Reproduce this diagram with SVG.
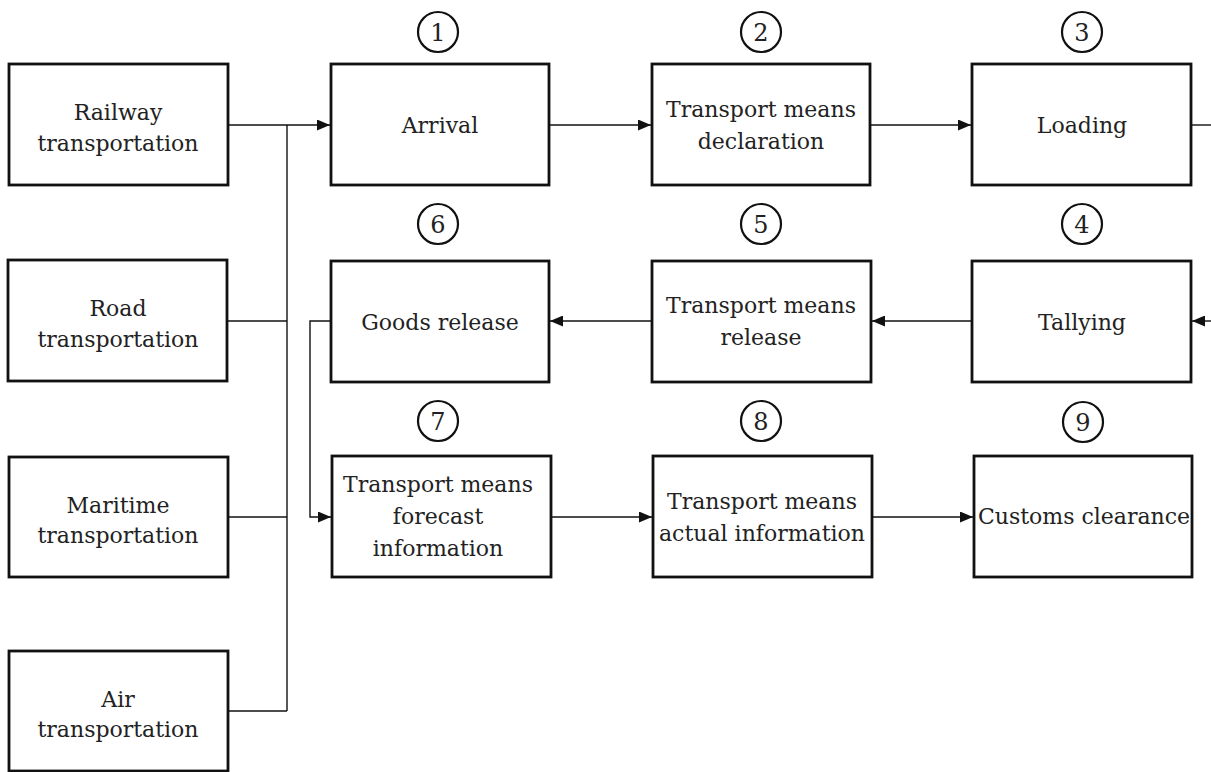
<svg xmlns="http://www.w3.org/2000/svg" width="1211" height="772" viewBox="0 0 1211 772">
<defs>
<style>
.box{fill:#fff;stroke:#111;stroke-width:2.8}
.num{fill:none;stroke:#111;stroke-width:2.2}
text{font-family:"DejaVu Serif","Liberation Serif",serif;font-size:22px;fill:#222;text-anchor:middle}
.d{font-size:24px}
.c{fill:none;stroke:#111;stroke-width:1.4}
</style>
<marker id="ah" viewBox="0 0 13 11" refX="13" refY="5.5" markerWidth="13" markerHeight="11" markerUnits="userSpaceOnUse" orient="auto">
<path d="M0,0 L13,5.5 L0,11 Z" fill="#111"/>
</marker>
</defs>
<rect width="1211" height="772" fill="#fff"/>
<g id="connectors">
<path class="c" d="M228,125 H330" marker-end="url(#ah)"/>
<path class="c" d="M287,125 V711"/>
<path class="c" d="M227,321 H287"/>
<path class="c" d="M228,517 H287"/>
<path class="c" d="M228,711 H287"/>
<path class="c" d="M549,125 H651" marker-end="url(#ah)"/>
<path class="c" d="M870,125 H971" marker-end="url(#ah)"/>
<path class="c" d="M1191,125 H1212"/>
<path class="c" d="M1212,321 H1192" marker-end="url(#ah)"/>
<path class="c" d="M972,321 H872" marker-end="url(#ah)"/>
<path class="c" d="M652,321 H550" marker-end="url(#ah)"/>
<path class="c" d="M331,321 H310 V517 H331" marker-end="url(#ah)"/>
<path class="c" d="M551,517 H652" marker-end="url(#ah)"/>
<path class="c" d="M872,517 H973" marker-end="url(#ah)"/>
</g>
<g id="railway"><rect class="box" x="9" y="64" width="219" height="121"/><text x="118" y="120">Railway</text><text x="118" y="151">transportation</text></g>
<g id="road"><rect class="box" x="8" y="260" width="219" height="121"/><text x="118" y="316">Road</text><text x="118" y="347">transportation</text></g>
<g id="maritime"><rect class="box" x="9" y="457" width="219" height="120"/><text x="118" y="513">Maritime</text><text x="118" y="543">transportation</text></g>
<g id="air"><rect class="box" x="9" y="651" width="219" height="120"/><text x="118" y="707">Air</text><text x="118" y="737">transportation</text></g>

<g id="n1"><circle class="num" cx="438" cy="32" r="20"/><text class="d" x="438" y="41">1</text><rect class="box" x="331" y="64" width="218" height="121"/><text x="440" y="133">Arrival</text></g>
<g id="n2"><circle class="num" cx="761" cy="32" r="20"/><text class="d" x="761" y="41">2</text><rect class="box" x="652" y="64" width="218" height="121"/><text x="761" y="117">Transport means</text><text x="761" y="149">declaration</text></g>
<g id="n3"><circle class="num" cx="1082" cy="32" r="20"/><text class="d" x="1082" y="41">3</text><rect class="box" x="972" y="64" width="219" height="121"/><text x="1082" y="133">Loading</text></g>
<g id="n4"><circle class="num" cx="1082" cy="224" r="20"/><text class="d" x="1082" y="233">4</text><rect class="box" x="972" y="261" width="219" height="121"/><text x="1082" y="330">Tallying</text></g>
<g id="n5"><circle class="num" cx="761" cy="224" r="20"/><text class="d" x="761" y="233">5</text><rect class="box" x="652" y="261" width="219" height="121"/><text x="761" y="313">Transport means</text><text x="761" y="345">release</text></g>
<g id="n6"><circle class="num" cx="438" cy="224" r="20"/><text class="d" x="438" y="233">6</text><rect class="box" x="331" y="261" width="218" height="121"/><text x="440" y="330">Goods release</text></g>
<g id="n7"><circle class="num" cx="438" cy="421" r="20"/><text class="d" x="438" y="430">7</text><rect class="box" x="332" y="456" width="219" height="121"/><text x="438" y="492">Transport means</text><text x="438" y="524">forecast</text><text x="438" y="556">information</text></g>
<g id="n8"><circle class="num" cx="761" cy="421" r="20"/><text class="d" x="761" y="430">8</text><rect class="box" x="653" y="456" width="219" height="121"/><text x="762" y="509">Transport means</text><text x="762" y="541">actual information</text></g>
<g id="n9"><circle class="num" cx="1083" cy="422" r="20"/><text class="d" x="1083" y="431">9</text><rect class="box" x="974" y="456" width="218" height="121"/><text x="1084" y="524">Customs clearance</text></g>
</svg>
